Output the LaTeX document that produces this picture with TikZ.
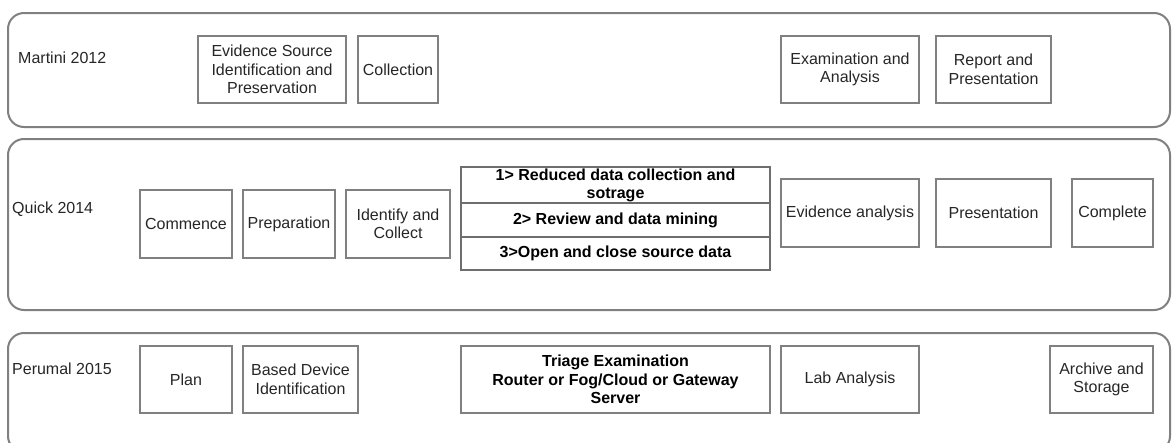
\documentclass[tikz,border=0pt]{standalone}
\usepackage{fontspec}
\setmainfont{Liberation Sans}
\usetikzlibrary{calc}
\definecolor{boxgray}{HTML}{808080}
\definecolor{cellgray}{HTML}{6E6E6E}
\definecolor{txtgray}{HTML}{262626}
\tikzset{
  lane/.style={draw=boxgray, line width=2pt, rounded corners=16pt},
  phase/.style={draw=boxgray, line width=2pt, align=center, inner sep=2pt, text=txtgray,
    font=\fontsize{16}{18.5}\selectfont},
  substep/.style={draw=cellgray, line width=1.5pt, minimum width=309, align=center, inner sep=0pt,
    text=black, font=\bfseries\fontsize{16}{18}\selectfont},
  lanelabel/.style={anchor=west, inner sep=0pt, text=txtgray, font=\fontsize{16}{18.5}\selectfont}
}

\begin{document}
\begin{tikzpicture}[x=1pt, y=-1pt]
\useasboundingbox (0,0) rectangle (1172,442);
% lanes
\draw[lane] (8,13) rectangle (1170,127);
\draw[lane] (8,139) rectangle (1170,310);
\draw[lane] (8,333) rectangle (1170,452);
\node[lanelabel] (martini) at (18,58) {Martini 2012};
\node[lanelabel] (quick) at (12,209) {Quick 2014};
\node[lanelabel] (perumal) at (12,369) {Perumal 2015};

% Martini 2012
\foreach \id/\x/\w/\txt in {esi/272/148/{Evidence Source\\Identification and\\Preservation},
    col/398/80/Collection, exa/850/138/{Examination and\\Analysis}, rep/993.5/115/{Report and\\Presentation}}
  \node[phase, minimum width=\w, minimum height=67] (m-\id) at (\x,69.5) {\txt};

% Quick 2014
\foreach \id/\x/\w/\txt in {com/186/92/Commence, pre/289/92/Preparation, idc/398/104/{Identify and\\Collect}}
  \node[phase, minimum width=\w, minimum height=68] (q-\id) at (\x,224) {\txt};
\node[substep, minimum height=36] (q-red) at (615.5,185) {1> Reduced data collection and\\sotrage};
\node[substep, minimum height=34] (q-rev) at (615.5,220) {2> Review and data mining};
\node[substep, minimum height=33] (q-osd) at (615.5,253.5) {3>Open and close source data};
\foreach \id/\x/\w/\txt in {eva/850/138/Evidence analysis, prs/993.5/115/Presentation, cpl/1112.5/81/Complete}
  \node[phase, minimum width=\w, minimum height=68] (q-\id) at (\x,213) {\txt};

% Perumal 2015
\foreach \id/\x/\w/\txt in {pln/186/92/Plan, bdi/300.5/115/{Based Device\\Identification},
    lab/850/138/Lab Analysis, arc/1101.5/103/{Archive and\\Storage}}
  \node[phase, minimum width=\w, minimum height=67] (p-\id) at (\x,379.5) {\txt};
\node[phase, minimum width=309, minimum height=67, text=black,
  font=\bfseries\fontsize{16}{18.5}\selectfont] (p-tri) at (615.5,379.5)
  {Triage Examination\\Router or Fog/Cloud or Gateway\\Server};
\end{tikzpicture}
\end{document}
